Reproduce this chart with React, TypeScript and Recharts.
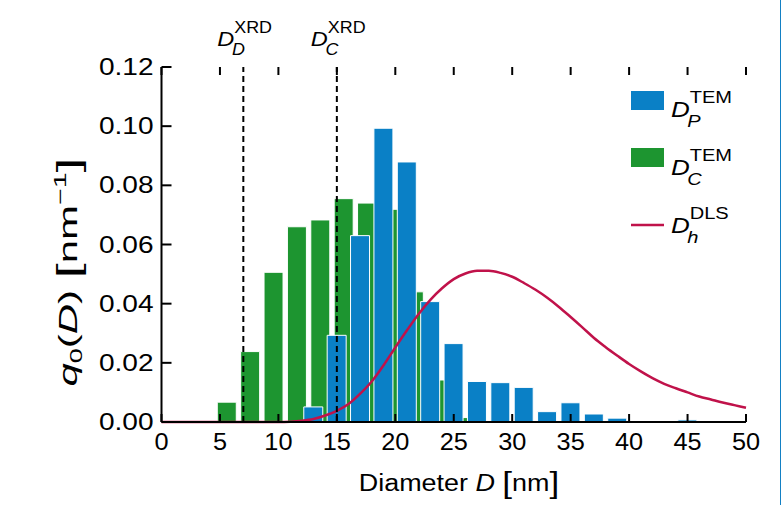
import React from "react";
import { ComposedChart, Bar, Line, XAxis, YAxis, ReferenceLine, Legend } from "recharts";

// histogram bins (bar centres, nm) and q0 values
const diameterP = [5, 7, 9, 11, 13, 15, 17, 19, 21, 23, 25, 27, 29, 31, 33, 35, 37, 39, 41, 43, 45];
const qP = [0, 0, 0, 0, 0.0051, 0.0293, 0.063, 0.0993, 0.0879, 0.0407, 0.0265, 0.0137, 0.0133, 0.0117, 0.0035, 0.0065, 0.0027, 0.0013, 0.0003, 0, 0.0007];
const diameterC = [5.6, 7.6, 9.6, 11.6, 13.6, 15.6, 17.6, 19.6, 21.6, 23.6, 25.6, 27.6, 29.6, 31.6, 33.6, 35.6, 37.6, 39.6, 41.6, 43.6, 45.6];
const qC = [0.0067, 0.0238, 0.0506, 0.066, 0.0683, 0.0755, 0.074, 0.0719, 0.044, 0.0142, 0.0015, 0, 0, 0, 0, 0, 0, 0, 0, 0, 0];

// DLS distribution curve
const dlsD = [0, 1, 2, 3, 4, 5, 6, 7, 8, 9, 10, 11, 12, 13, 14, 15, 16, 17, 18, 19, 20, 21, 22, 23, 24, 25, 26, 27, 28, 29, 30, 31, 32, 33, 34, 35, 36, 37, 38, 39, 40, 41, 42, 43, 44, 45, 46, 47, 48, 49, 50];
const dlsQ = [0, 0, 0, 0, 0, 0, 0, 0, 0, 0, 0, 0.0001, 0.0004, 0.001, 0.0022, 0.0038, 0.0061, 0.0096, 0.0138, 0.0192, 0.0252, 0.031, 0.0365, 0.0413, 0.0452, 0.0483, 0.0502, 0.0511, 0.0511, 0.0504, 0.0491, 0.047, 0.0447, 0.042, 0.0389, 0.0355, 0.032, 0.0284, 0.0253, 0.0224, 0.0196, 0.0171, 0.0148, 0.0129, 0.0114, 0.01, 0.0086, 0.0076, 0.0066, 0.0057, 0.0048];

const xrdLines = [7, 15];
const xrdSubs = ["D", "C"];
const xTicks = [0, 5, 10, 15, 20, 25, 30, 35, 40, 45, 50];
const yTicks = [0, 0.02, 0.04, 0.06, 0.08, 0.1, 0.12];

const BLUE = "#0a80c6";
const GREEN = "#1d9530";
const RED = "#c0124a";
const FONT = "'Liberation Sans', Arial, sans-serif";
const PLOT_TOP = 67;

const barRows = diameterP.map((d, i) => ({ dP: d, qP: qP[i], dC: diameterC[i], qC: qC[i] }));
const dlsRows = dlsD.map((d, i) => ({ d, q: dlsQ[i] }));

function SubSup({ x, y, base, sub, sup, size, small, sx = 1 }: any) {
  const w = size * 0.72;
  return (
    <g transform={`translate(${x},${y}) scale(${sx},1)`} fontFamily={FONT} fill="#000">
      <text x={0} y={0} fontSize={size} fontStyle="italic">{base}</text>
      <text x={w} y={-size * 0.62} fontSize={small}>{sup}</text>
      <text x={w - 2} y={size * 0.45} fontSize={small} fontStyle="italic">{sub}</text>
    </g>
  );
}

function XrdLabel({ viewBox, sub }: any) {
  if (!viewBox) return null;
  const cx = viewBox.x + (viewBox.width || 0) / 2;
  return <SubSup x={cx - 26} y={46} base="D" sub={sub} sup="XRD" size={21} small={16} sx={1.12} />;
}

// inward tick marks (bottom and top frame) are drawn with the labels
function XTick({ x, y, payload }: any) {
  return (
    <g>
      <line x1={x} x2={x} y1={y - 11} y2={y - 19} stroke="#000" strokeWidth={2} />
      <line x1={x} x2={x} y1={PLOT_TOP} y2={PLOT_TOP + 8} stroke="#000" strokeWidth={2} />
      <text transform={`translate(${x},${y + 17}) scale(1.1,1)`} textAnchor="middle" fontSize={23} fontFamily={FONT} fill="#000">
        {payload.value}
      </text>
    </g>
  );
}

function YTick({ x, y, payload }: any) {
  return (
    <g>
      <line x1={x + 8} x2={x + 18} y1={y} y2={y} stroke="#000" strokeWidth={2} />
      <text transform={`translate(${x},${y + 8}) scale(1.22,1)`} textAnchor="end" fontSize={23} fontFamily={FONT} fill="#000">
        {Number(payload.value).toFixed(2)}
      </text>
    </g>
  );
}

function LegendBox() {
  return (
    <svg width={130} height={170}>
      <rect x={6} y={11} width={33} height={19} fill={BLUE} />
      <SubSup x={46} y={37} base="D" sub="P" sup="TEM" size={22} small={17} sx={1.18} />
      <rect x={6} y={68} width={33} height={19} fill={GREEN} />
      <SubSup x={46} y={95} base="D" sub="C" sup="TEM" size={22} small={17} sx={1.18} />
      <line x1={6} x2={39} y1={145} y2={145} stroke={RED} strokeWidth={2.5} />
      <SubSup x={46} y={153} base="D" sub="h" sup="DLS" size={22} small={17} sx={1.18} />
    </svg>
  );
}

const axisStroke = { stroke: "#000", strokeWidth: 2 };

export default function App() {
  return (
    <div style={{ position: "absolute", left: 0, top: 0, width: 781, height: 505, background: "#fff" }}>
      <ComposedChart width={781} height={505} data={barRows} margin={{ top: PLOT_TOP, right: 35, bottom: 53, left: 101.5 }}>
        <XAxis
          xAxisId="l"
          dataKey="d"
          type="number"
          domain={[0, 50]}
          ticks={xTicks}
          interval={0}
          height={30}
          tickSize={0}
          tickMargin={11}
          axisLine={axisStroke}
          tickLine={false}
          tick={<XTick />}
        />
        <XAxis xAxisId="c" dataKey="dC" type="number" domain={[0, 50]} height={0} hide />
        <XAxis xAxisId="p" dataKey="dP" type="number" domain={[0, 50]} height={0} hide />
        <XAxis
          xAxisId="top"
          orientation="top"
          type="number"
          domain={[0, 50]}
          ticks={xTicks}
          height={0}
          tick={false}
          axisLine={axisStroke}
          tickLine={false}
        />
        <YAxis
          yAxisId="q"
          type="number"
          domain={[0, 0.12]}
          ticks={yTicks}
          interval={0}
          width={60}
          tickSize={0}
          tickMargin={8}
          axisLine={axisStroke}
          tickLine={false}
          tick={<YTick />}
        />
        <YAxis yAxisId="r" orientation="right" type="number" domain={[0, 0.12]} width={0} tick={false} tickLine={false} axisLine={axisStroke} />
        <Bar xAxisId="c" yAxisId="q" dataKey="qC" barSize={19} fill={GREEN} stroke="#fff" strokeWidth={1} isAnimationActive={false} />
        <Bar xAxisId="p" yAxisId="q" dataKey="qP" barSize={19} fill={BLUE} stroke="#fff" strokeWidth={1} isAnimationActive={false} />
        <Line xAxisId="l" yAxisId="q" data={dlsRows} dataKey="q" type="monotone" stroke={RED} strokeWidth={2.5} dot={false} isAnimationActive={false} />
        {xrdLines.map((v, i) => (
          <ReferenceLine
            key={v}
            xAxisId="l"
            yAxisId="q"
            x={v}
            stroke="#000"
            strokeWidth={2}
            strokeDasharray="6 4"
            label={<XrdLabel sub={xrdSubs[i]} />}
          />
        ))}
        <Legend
          layout="vertical"
          align="center"
          verticalAlign="middle"
          wrapperStyle={{ position: "absolute", left: 625, top: 80, width: 130, height: 170 }}
          content={() => <LegendBox />}
        />
      </ComposedChart>
      <svg width={781} height={505} style={{ position: "absolute", left: 0, top: 0, pointerEvents: "none" }}>
        <g transform="translate(77,272) rotate(-90) scale(1.68,1)">
          <text textAnchor="middle" fontSize={25} fontFamily={FONT} fill="#000">
            <tspan fontStyle="italic">q</tspan>
            <tspan fontSize={16} dy={5}>0</tspan>
            <tspan dy={-5}>(</tspan>
            <tspan fontStyle="italic">D</tspan>
            <tspan>) </tspan>
            <tspan fontSize={32} dy={2}>[</tspan>
            <tspan dy={-2}>nm</tspan>
            <tspan fontSize={17} dy={-11}>−1</tspan>
            <tspan fontSize={32} dy={13}>]</tspan>
          </text>
        </g>
        <g transform="translate(459,491) scale(1.17,1)">
          <text textAnchor="middle" fontSize={23} fontFamily={FONT} fill="#000">
            <tspan>Diameter </tspan>
            <tspan fontStyle="italic">D</tspan>
            <tspan> </tspan>
            <tspan fontSize={30} dy={2}>[</tspan>
            <tspan dy={-2}>nm</tspan>
            <tspan fontSize={30} dy={2}>]</tspan>
          </text>
        </g>
      </svg>
      <div style={{ position: "absolute", left: 780, top: 0, width: 1, height: 505, background: "#1380c4" }} />
    </div>
  );
}
